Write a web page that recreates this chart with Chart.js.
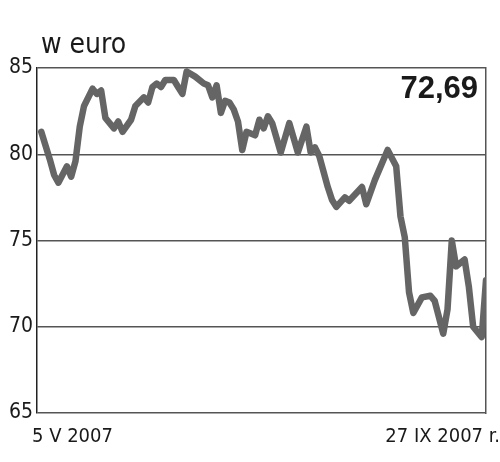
<!DOCTYPE html>
<html>
<head>
<meta charset="utf-8">
<script src="https://cdn.jsdelivr.net/npm/chart.js@4"></script>
<style>
  html, body { margin: 0; padding: 0; background: #fff; }
  #wrap { width: 500px; height: 462px; }
</style>
</head>
<body>
<div id="wrap"><canvas id="chart" width="500" height="462"></canvas></div>
<script>
// Numer sesji od 5 V 2007 (0) do 27 IX 2007 (104) i kurs w euro.
const sessions = [
  0, 2, 3, 4, 6, 7, 8, 9, 10, 12, 13, 14, 15, 17, 18, 19, 21, 22, 24, 25,
  26, 27, 28, 29, 31, 32, 33, 34, 36, 38, 39, 40, 41, 42, 43, 44, 45, 46, 47, 48,
  50, 51, 52, 53, 54, 56, 58, 60, 62, 63, 64, 65, 67, 68, 69, 71, 72, 75, 76, 78,
  81, 83, 84, 85, 86, 87, 89, 91, 92, 94, 95, 96, 97, 99, 100, 101, 103, 104
];
const prices = [
  81.3, 79.7, 78.8, 78.35, 79.3, 78.7, 79.6, 81.6, 82.8, 83.8, 83.5, 83.7, 82.1, 81.5, 81.9, 81.3, 82.0, 82.8, 83.3, 83.0,
  83.9, 84.1, 83.9, 84.3, 84.3, 83.9, 83.5, 84.8, 84.5, 84.1, 84.0, 83.3, 84.0, 82.4, 83.1, 83.0, 82.6, 81.9, 80.25, 81.3,
  81.1, 82.0, 81.5, 82.2, 81.8, 80.1, 81.8, 80.1, 81.6, 80.1, 80.4, 79.9, 78.1, 77.35, 76.95, 77.5, 77.3, 78.1, 77.1, 78.5,
  80.25, 79.3, 76.4, 75.2, 72.0, 70.8, 71.7, 71.8, 71.5, 69.6, 71.0, 75.0, 73.5, 73.9, 72.3, 70.0, 69.4, 72.69
];
const yTicks = [65, 70, 75, 80, 85];
const unitLabel = "w euro";
const startLabel = "5 V 2007";
const endLabel = "27 IX 2007 r.";

const FONT = "'DejaVu Sans Condensed', 'DejaVu Sans', sans-serif";

// Podpisy: jednostka, daty pod osią i ostatni kurs w rogu.
const labelsPlugin = {
  id: "labels",
  afterDraw(chart) {
    const { ctx, scales: { x, y } } = chart;
    ctx.save();
    ctx.fillStyle = "#1a1a1a";
    ctx.textBaseline = "alphabetic";

    ctx.font = "28px " + FONT;
    ctx.textAlign = "left";
    ctx.fillText(unitLabel, 41, 53);

    ctx.font = "20px " + FONT;
    ctx.fillText(startLabel, x.left - 5, y.bottom + 29);
    ctx.textAlign = "right";
    ctx.fillText(endLabel, x.right + 14, y.bottom + 29);

    const last = prices[prices.length - 1].toFixed(2).replace(".", ",");
    ctx.font = "bold 31px 'Liberation Sans', Arial, sans-serif";
    ctx.fillText(last, x.right - 8, y.top + 30);
    ctx.restore();
  },
};

new Chart(document.getElementById("chart"), {
  type: "line",
  data: {
    datasets: [{
      data: sessions.map((s, i) => ({ x: s, y: prices[i] })),
      borderColor: "#656565",
      borderWidth: 6.5,
      borderJoinStyle: "round",
      borderCapStyle: "round",
      pointRadius: 0,
      tension: 0,
      fill: false,
    }],
  },
  options: {
    parsing: false,
    responsive: false,
    animation: false,
    events: [],
    layout: { padding: { top: 68, right: 14, bottom: 49, left: 0 } },
    plugins: { legend: { display: false }, tooltip: { enabled: false } },
    scales: {
      x: {
        type: "linear",
        min: -1,
        max: 104,
        display: false,
      },
      y: {
        min: 65,
        max: 85,
        afterBuildTicks: (s) => { s.ticks = yTicks.map((v) => ({ value: v })); },
        afterFit: (s) => { s.width = 37; },
        border: { display: true, color: "#222", width: 1.5 },
        grid: { color: "#555", lineWidth: 1.5, drawTicks: false },
        ticks: {
          color: "#1a1a1a",
          padding: 4,
          font: { family: FONT, size: 21 },
        },
      },
      y2: {
        position: "right",
        min: 65,
        max: 85,
        afterFit: (s) => { s.width = 0; },
        border: { display: true, color: "#555", width: 1.5 },
        grid: { display: false },
        ticks: { display: false },
      },
    },
  },
  plugins: [labelsPlugin],
});
</script>
</body>
</html>
